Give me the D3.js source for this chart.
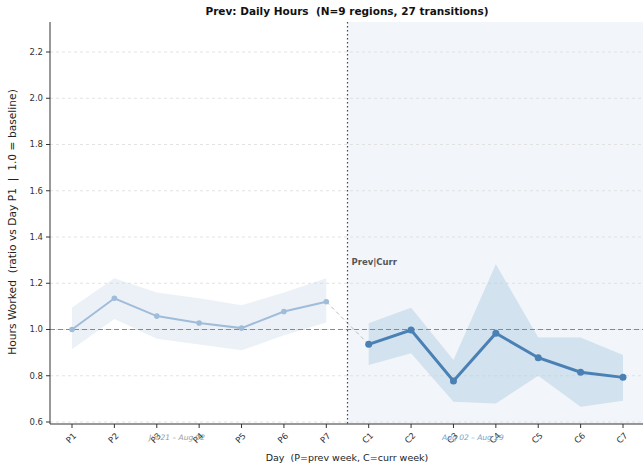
<!DOCTYPE html>
<html><head><meta charset="utf-8">
<script src="https://cdn.jsdelivr.net/npm/d3@7/dist/d3.min.js"></script>
<style>body{margin:0;background:#fff;font-family:"DejaVu Sans",sans-serif} text{white-space:pre}</style>
</head><body><svg id="c" width="643" height="473"></svg>
<script>
const prevDays = ["P1","P2","P3","P4","P5","P6","P7"];
const currDays = ["C1","C2","C3","C4","C5","C6","C7"];
const prevMean = [1.000, 1.135, 1.058, 1.028, 1.006, 1.078, 1.120];
const prevLow  = [0.915, 1.045, 0.960, 0.935, 0.910, 0.975, 1.030];
const prevHigh = [1.095, 1.222, 1.160, 1.135, 1.105, 1.160, 1.222];
const currMean = [0.936, 0.998, 0.777, 0.984, 0.878, 0.815, 0.793];
const currLow  = [0.847, 0.897, 0.688, 0.680, 0.800, 0.666, 0.692];
const currHigh = [1.027, 1.094, 0.868, 1.282, 0.965, 0.965, 0.890];
const yTicks = [0.6, 0.8, 1.0, 1.2, 1.4, 1.6, 1.8, 2.0, 2.2];
const title = "Prev: Daily Hours  (N=9 regions, 27 transitions)";
const xLabel = "Day  (P=prev week, C=curr week)";
const yLabel = "Hours Worked  (ratio vs Day P1  |  1.0 = baseline)";
const prevRange = "Jul 21 \u2013 Aug 02";
const currRange = "Aug 02 \u2013 Aug 29";

const svg = d3.select("#c");
const L = 50, T = 22, B = 424, R = 643;
const days = prevDays.concat(currDays);
const x = d3.scaleLinear().domain([0, 13]).range([72, 623]);
const y = d3.scaleLinear().domain([0.6, 2.2]).range([422, 52]);
const boundary = 6.5;

// curr shaded region
svg.append("rect").attr("x", x(boundary)).attr("y", T).attr("width", R - x(boundary)).attr("height", B - T)
  .attr("fill", "#f2f6fa");

// grid
svg.append("g").selectAll("line").data(yTicks).join("line")
  .attr("x1", L).attr("x2", R).attr("y1", d => y(d)).attr("y2", d => y(d))
  .attr("stroke", "#dcdcdc").attr("stroke-width", 0.8).attr("stroke-dasharray", "3,3");

// bands
const area = (lo, hi, off) => d3.area().x((d, i) => x(i + off)).y0((d, i) => y(lo[i])).y1((d, i) => y(hi[i]));
svg.append("path").datum(prevMean).attr("d", area(prevLow, prevHigh, 0)).attr("fill", "#c8d6e8").attr("opacity", 0.35);
svg.append("path").datum(currMean).attr("d", area(currLow, currHigh, 7)).attr("fill", "#b3cde3").attr("opacity", 0.5);

// baseline
svg.append("line").attr("x1", L).attr("x2", R).attr("y1", y(1)).attr("y2", y(1))
  .attr("stroke", "#888").attr("stroke-width", 1.2).attr("stroke-dasharray", "5,3");

// connector
svg.append("line").attr("x1", x(6)).attr("y1", y(prevMean[6])).attr("x2", x(7)).attr("y2", y(currMean[0]))
  .attr("stroke", "#bbb").attr("stroke-width", 1).attr("stroke-dasharray", "4,3");

// divider
svg.append("line").attr("x1", x(boundary)).attr("x2", x(boundary)).attr("y1", T).attr("y2", B)
  .attr("stroke", "#444").attr("stroke-width", 1.2).attr("stroke-dasharray", "1.5,2.5");

// lines
const line = off => d3.line().x((d, i) => x(i + off)).y(d => y(d));
svg.append("path").datum(prevMean).attr("d", line(0)).attr("fill", "none").attr("stroke", "#9fbcd9").attr("stroke-width", 2);
svg.append("g").selectAll("circle").data(prevMean).join("circle")
  .attr("cx", (d, i) => x(i)).attr("cy", d => y(d)).attr("r", 2.8).attr("fill", "#9fbcd9");
svg.append("path").datum(currMean).attr("d", line(7)).attr("fill", "none").attr("stroke", "#4a80b4").attr("stroke-width", 3);
svg.append("g").selectAll("circle").data(currMean).join("circle")
  .attr("cx", (d, i) => x(i + 7)).attr("cy", d => y(d)).attr("r", 3.5).attr("fill", "#4a80b4");

// axes spines
svg.append("line").attr("x1", L).attr("x2", L).attr("y1", T).attr("y2", B).attr("stroke", "#333").attr("stroke-width", 1);
svg.append("line").attr("x1", L).attr("x2", R).attr("y1", B).attr("y2", B).attr("stroke", "#333").attr("stroke-width", 1);

// y ticks
const yt = svg.append("g");
yTicks.forEach(t => {
  yt.append("line").attr("x1", L - 4).attr("x2", L).attr("y1", y(t)).attr("y2", y(t)).attr("stroke", "#333");
  yt.append("text").attr("x", L - 7).attr("y", y(t)).attr("dy", "0.35em").attr("text-anchor", "end")
    .attr("font-size", 8.5).attr("fill", "#333").text(t.toFixed(1));
});
// x ticks
const xt = svg.append("g");
days.forEach((d, i) => {
  xt.append("line").attr("x1", x(i)).attr("x2", x(i)).attr("y1", B).attr("y2", B + 4).attr("stroke", "#333");
  xt.append("text").attr("transform", `translate(${x(i) - 1},${B + 14}) rotate(-45)`)
    .attr("text-anchor", "middle").attr("dy", "0.35em").attr("font-size", 8.5).attr("fill", "#333").text(d);
});

// range annotations
svg.append("text").attr("x", x(2.48)).attr("y", 440).attr("text-anchor", "middle").attr("font-size", 7.5)
  .attr("font-style", "italic").attr("fill", "#999").text(prevRange);
svg.append("text").attr("x", x(9.46)).attr("y", 440).attr("text-anchor", "middle").attr("font-size", 7.5)
  .attr("font-style", "italic").attr("fill", "#6f9fcc").text(currRange);

// Prev|Curr label
svg.append("text").attr("x", x(boundary) + 4).attr("y", 265).attr("font-size", 8.5).attr("font-weight", "bold")
  .attr("fill", "#555").text("Prev|Curr");

// title and labels
svg.append("text").attr("x", 347).attr("y", 15).attr("text-anchor", "middle").attr("font-size", 10.5)
  .attr("font-weight", "bold").attr("fill", "#111").text(title);
svg.append("text").attr("x", 347).attr("y", 461).attr("text-anchor", "middle").attr("font-size", 9.5)
  .attr("fill", "#222").text(xLabel);
svg.append("text").attr("transform", `translate(16,222) rotate(-90)`).attr("text-anchor", "middle")
  .attr("font-size", 10.7).attr("fill", "#222").text(yLabel);
</script></body></html>
